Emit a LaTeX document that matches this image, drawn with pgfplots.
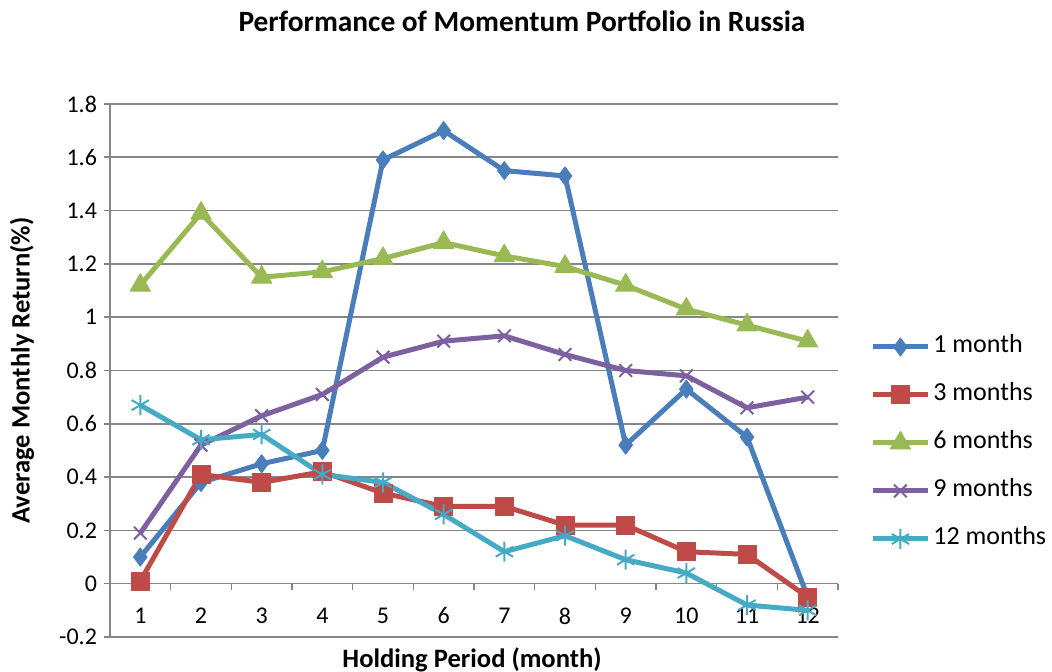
\documentclass[border=0pt]{standalone}
\usepackage{fontspec}
\setmainfont{Carlito}
\usepackage{pgfplots}
\pgfplotsset{compat=1.18}

\definecolor{c1}{HTML}{4A7EBB}
\definecolor{c3}{HTML}{BE4B48}
\definecolor{c6}{HTML}{98B954}
\definecolor{c9}{HTML}{7D60A0}
\definecolor{c12}{HTML}{46AAC5}
\definecolor{gridc}{HTML}{868686}

\begin{document}
\begin{tikzpicture}
\path[use as bounding box] (-55pt,-17.5pt) rectangle (471pt,318.5pt);
\begin{axis}[
  at={(0,0)}, anchor=south west,
  scale only axis, width=364pt, height=266.5pt,
  xmin=0.5, xmax=12.5, ymin=-0.2, ymax=1.8,
  axis x line=middle, axis y line=left,
  axis line style={-, draw=gridc, line width=0.8pt},
  xtick={1,...,12},
  minor xtick={0.5,1.5,...,12.5},
  ytick={-0.2,0,0.2,0.4,0.6,0.8,1,1.2,1.4,1.6,1.8},
  ymajorgrids, grid style={gridc, line width=0.8pt},
  tick align=outside,
  major tick length=3pt, minor tick length=3pt,
  major x tick style={draw=none},
  tick style={gridc, line width=0.8pt},
  hide obscured x ticks=false, hide obscured y ticks=false,
  ticklabel style={font=\fontsize{12}{14}\selectfont},
  xticklabel style={yshift=-5.5pt},
  /pgf/number format/assume math mode=true,
  title={\bfseries Performance of Momentum Portfolio in Russia},
  title style={at={(rel axis cs:0,0)}, anchor=center, xshift=206pt, yshift=302pt, font=\fontsize{14.7}{17}\selectfont},
  xlabel={\bfseries Holding Period (month)},
  xlabel style={at={(rel axis cs:0,0)}, anchor=center, xshift=181pt, yshift=-11.5pt, font=\fontsize{13.3}{15}\selectfont},
  ylabel={\bfseries Average Monthly Return(\%)},
  ylabel style={at={(axis description cs:-0.1209,0.5)}, anchor=center, font=\fontsize{13.3}{15}\selectfont},
  legend style={at={(rel axis cs:0,0)}, anchor=west, xshift=380pt, yshift=97pt,
    draw=none, fill=none, inner sep=0pt, row sep=12pt,
    font=\fontsize{13}{15}\selectfont,
    nodes={inner sep=0pt, text height=9pt, text depth=3pt},
    /tikz/every odd column/.style={column sep=1.5pt}},
  legend cell align=left,
  legend image code/.code={\draw[mark repeat=2,mark phase=2,#1] plot coordinates {(0pt,0pt) (13.75pt,0pt) (27.5pt,0pt)};},
  every axis plot/.append style={line width=2.5pt, line join=round},
]
\addplot[color=c1, mark=diamond*, mark size=4.5pt, mark options={line width=0.5pt}] coordinates {
(1,0.10) (2,0.38) (3,0.45) (4,0.50) (5,1.59) (6,1.70) (7,1.55) (8,1.53) (9,0.52) (10,0.73) (11,0.55) (12,-0.05)};
\addplot[color=c3, mark=square*, mark size=4.5pt, mark options={line width=0.5pt}] coordinates {
(1,0.01) (2,0.41) (3,0.38) (4,0.42) (5,0.34) (6,0.29) (7,0.29) (8,0.22) (9,0.22) (10,0.12) (11,0.11) (12,-0.05)};
\addplot[color=c6, mark=triangle*, mark size=5.8pt, mark options={line width=0.5pt}] coordinates {
(1,1.12) (2,1.39) (3,1.15) (4,1.17) (5,1.22) (6,1.28) (7,1.23) (8,1.19) (9,1.12) (10,1.03) (11,0.97) (12,0.91)};
\addplot[color=c9, mark=x, mark size=4.5pt, mark options={line width=1pt}] coordinates {
(1,0.19) (2,0.52) (3,0.63) (4,0.71) (5,0.85) (6,0.91) (7,0.93) (8,0.86) (9,0.80) (10,0.78) (11,0.66) (12,0.70)};
\addplot[color=c12, mark=asterisk, mark size=5pt, mark options={line width=1pt}] coordinates {
(1,0.67) (2,0.54) (3,0.56) (4,0.41) (5,0.38) (6,0.26) (7,0.12) (8,0.18) (9,0.09) (10,0.04) (11,-0.08) (12,-0.10)};
\legend{1 month, 3 months, 6 months, 9 months, 12 months}
\end{axis}
\end{tikzpicture}
\end{document}
